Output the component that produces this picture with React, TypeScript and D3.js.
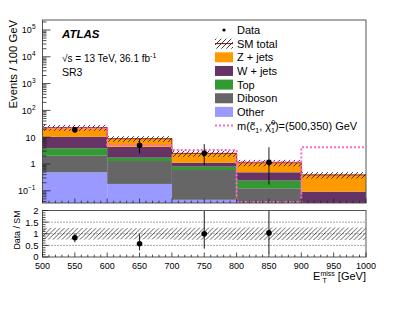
import { useEffect, useRef } from "react";
import * as d3 from "d3";

// bin edges of the MET histogram (GeV)
const binEdges = [500, 600, 700, 800, 900, 1000];

// background stack, one value per bin (events / 100 GeV)
const zJets = [12.7, 4.4, 1.38, 0.63, 0.3];
const wJets = [6.45, 2.68, 0.32, 0.25, 0.083];
const topQuark = [1.81, 0.43, 0.2, 0.116, 0.005];
const diboson = [1.55, 1.11, 0.55, 0.119, 0.004];
const otherBkg = [0.49, 0.18, 0.046, 0.005, 0.001];

// relative uncertainty of the SM total
const smUnc = [0.25, 0.24, 0.26, 0.27, 0.27];

// signal m(c1, chi0)=(500,350)
const signal = [21.5, 5.1, 3.3, 1.22, 4.2];

// data with asymmetric errors
const dataVals = [19, 5, 2.5, 1.16];
const dataUp = [4.4, 3.6, 3.0, 3.04];
const dataDown = [4.4, 2.5, 1.6, 0.99];

const xTicks = [500, 550, 600, 650, 700, 750, 800, 850, 900, 950, 1000];
const logTicks = [-1, 0, 1, 2, 3, 4, 5];
const ratioTicks = [0, 0.5, 1, 1.5, 2];

const legendLabels = ["Data", "SM total", "Z + jets", "W + jets", "Top", "Diboson", "Other"];
const stackColors = ["#9999ff", "#666666", "#339933", "#663366", "#ff9900"];
const stackKeys = ["other", "diboson", "top", "wjets", "zjets"];
const legendColors: Record<string, string> = {
  "Z + jets": "#ff9900",
  "W + jets": "#663366",
  Top: "#339933",
  Diboson: "#666666",
  Other: "#9999ff",
};

const FONT = "'Liberation Sans', Arial, Helvetica, sans-serif";
const SIG = "#ff66cc";

export default function App() {
  const svgRef = useRef<SVGSVGElement | null>(null);

  useEffect(() => {
    if (!svgRef.current) return;
    const width = 407;
    const height = 315;
    const svg = d3.select(svgRef.current).attr("width", width).attr("height", height);
    svg.selectAll("*").remove();

    const left = 42.5;
    const right = 366;
    const mainTop = 20;
    const mainBottom = 203;
    const ratioTop = 210.5;
    const ratioBottom = 257;

    const x = d3.scaleLinear().domain([500, 1000]).range([left, right]);
    const yMin = 0.035;
    const y = d3.scaleLog().domain([yMin, 2.36e5]).range([mainBottom, mainTop]).clamp(true);
    const yr = d3.scaleLinear().domain([0, 2]).range([ratioBottom, ratioTop]).clamp(true);
    const ys = (v: number) => y(Math.max(v, yMin * 0.5));

    const defs = svg.append("defs");
    const mkHatch = (id: string, gap: number, sw: number, col: string) => {
      const p = defs
        .append("pattern")
        .attr("id", id)
        .attr("patternUnits", "userSpaceOnUse")
        .attr("width", gap)
        .attr("height", gap);
      p.append("path")
        .attr("d", `M0,${gap} L${gap},0 M${-gap / 2},${gap / 2} L${gap / 2},${-gap / 2} M${gap / 2},${gap * 1.5} L${gap * 1.5},${gap / 2}`)
        .attr("stroke", col)
        .attr("stroke-width", sw);
    };
    mkHatch("hatchMain", 5, 0.8, "#111");
    mkHatch("hatchRatio", 4.5, 0.75, "#222");
    defs
      .append("clipPath")
      .attr("id", "clipMain")
      .append("rect")
      .attr("x", left)
      .attr("y", mainTop)
      .attr("width", right - left)
      .attr("height", mainBottom - mainTop);

    const bins = zJets.map((_, i) => ({
      lo: binEdges[i],
      hi: binEdges[i + 1],
      other: otherBkg[i],
      diboson: diboson[i],
      top: topQuark[i],
      wjets: wJets[i],
      zjets: zJets[i],
    }));
    const total = bins.map((b) => b.other + b.diboson + b.top + b.wjets + b.zjets);
    const series = d3.stack<any>().keys(stackKeys)(bins);

    const main = svg.append("g").attr("clip-path", "url(#clipMain)");
    series.forEach((s, k) => {
      main
        .append("g")
        .selectAll("rect")
        .data(s)
        .join("rect")
        .attr("x", (d: any) => x(d.data.lo))
        .attr("width", (d: any) => x(d.data.hi) - x(d.data.lo))
        .attr("y", (d: any) => ys(d[1]))
        .attr("height", (d: any) => Math.max(0, ys(d[0]) - ys(d[1])))
        .attr("fill", stackColors[k]);
    });

    // SM total band and line
    main
      .append("g")
      .selectAll("rect")
      .data(bins)
      .join("rect")
      .attr("x", (d) => x(d.lo))
      .attr("width", (d) => x(d.hi) - x(d.lo))
      .attr("y", (_, i) => ys(total[i] * (1 + smUnc[i])))
      .attr("height", (_, i) => ys(total[i] * (1 - smUnc[i])) - ys(total[i] * (1 + smUnc[i])))
      .attr("fill", "url(#hatchMain)");
    let totPath = "";
    bins.forEach((b, i) => {
      totPath += `${i === 0 ? "M" : "L"}${x(b.lo)},${ys(total[i])} L${x(b.hi)},${ys(total[i])} `;
    });
    main.append("path").attr("d", totPath).attr("fill", "none").attr("stroke", "#7a0000").attr("stroke-width", 0.8);

    // signal outline
    const sigPath =
      `M${x(binEdges[0])},${y(signal[0])} H${x(binEdges[1])} V${y(signal[1])} H${x(binEdges[2])} V${y(signal[2])} H${x(binEdges[3])} ` +
      `V${mainBottom - 1} H${x(binEdges[4])} V${y(signal[4])} H${x(binEdges[5])} ` +
      `M${x(binEdges[3])},${y(signal[3])} H${x(binEdges[4])}`;
    main
      .append("path")
      .attr("d", sigPath)
      .attr("fill", "none")
      .attr("stroke", SIG)
      .attr("stroke-width", 2)
      .attr("stroke-dasharray", "2,2");

    // data points main
    dataVals.forEach((v, i) => {
      const cx = x((binEdges[i] + binEdges[i + 1]) / 2);
      main
        .append("line")
        .attr("x1", cx)
        .attr("x2", cx)
        .attr("y1", ys(v + dataUp[i]))
        .attr("y2", ys(v - dataDown[i]))
        .attr("stroke", "#000")
        .attr("stroke-width", 0.9);
      main.append("circle").attr("cx", cx).attr("cy", y(v)).attr("r", 2.8).attr("fill", "#000");
    });

    // ---- ratio panel
    const ratio = svg.append("g");
    ratio
      .selectAll("line.grid")
      .data([0.5, 1, 1.5])
      .join("line")
      .attr("x1", left)
      .attr("x2", right)
      .attr("y1", (d) => yr(d))
      .attr("y2", (d) => yr(d))
      .attr("stroke", "#000")
      .attr("stroke-width", 0.7)
      .attr("stroke-dasharray", "1,2");
    ratio
      .append("g")
      .selectAll("rect")
      .data(bins)
      .join("rect")
      .attr("x", (d) => x(d.lo))
      .attr("width", (d) => x(d.hi) - x(d.lo))
      .attr("y", (_, i) => yr(1 + smUnc[i]))
      .attr("height", (_, i) => yr(1 - smUnc[i]) - yr(1 + smUnc[i]))
      .attr("fill", "url(#hatchRatio)");
    dataVals.forEach((v, i) => {
      const cx = x((binEdges[i] + binEdges[i + 1]) / 2);
      ratio
        .append("line")
        .attr("x1", cx)
        .attr("x2", cx)
        .attr("y1", yr((v + dataUp[i]) / total[i]))
        .attr("y2", yr((v - dataDown[i]) / total[i]))
        .attr("stroke", "#000")
        .attr("stroke-width", 0.9);
      ratio.append("circle").attr("cx", cx).attr("cy", yr(v / total[i])).attr("r", 2.8).attr("fill", "#000");
    });

    // ---- frames and ticks
    const frameCol = "#555";
    [
      [mainTop, mainBottom],
      [ratioTop, ratioBottom],
    ].forEach(([t, b]) => {
      svg
        .append("rect")
        .attr("x", left)
        .attr("y", t)
        .attr("width", right - left)
        .attr("height", b - t)
        .attr("fill", "none")
        .attr("stroke", frameCol)
        .attr("stroke-width", 1);
    });

    const tickG = svg.append("g").attr("stroke", "#222").attr("stroke-width", 0.8);
    const minorX = d3.range(500, 1001, 10);
    [mainBottom, ratioBottom].forEach((b) => {
      minorX.forEach((v) => {
        const len = v % 50 === 0 ? 4.5 : 2.3;
        tickG.append("line").attr("x1", x(v)).attr("x2", x(v)).attr("y1", b).attr("y2", b - len);
      });
    });
    // log ticks
    logTicks.forEach((e) => {
      for (let m = 1; m <= 9; m++) {
        const v = m * Math.pow(10, e);
        if (v < yMin || v > 2.36e5) continue;
        const len = m === 1 ? 8 : 4;
        tickG.append("line").attr("x1", left).attr("x2", left + len).attr("y1", y(v)).attr("y2", y(v));
      }
    });
    for (let m = 4; m <= 9; m++) {
      const v = m * 0.01;
      if (v < yMin) continue;
      tickG.append("line").attr("x1", left).attr("x2", left + 4).attr("y1", y(v)).attr("y2", y(v));
    }
    d3.range(0, 2.01, 0.1).forEach((v) => {
      const major = Math.abs(v * 2 - Math.round(v * 2)) < 1e-6;
      tickG
        .append("line")
        .attr("x1", left)
        .attr("x2", left + (major ? 6 : 3))
        .attr("y1", yr(v))
        .attr("y2", yr(v));
    });

    // ---- labels
    const txt = svg.append("g").attr("font-family", FONT).attr("fill", "#000");
    logTicks.forEach((e) => {
      const t = txt
        .append("text")
        .attr("x", left - 7)
        .attr("y", y(Math.pow(10, e)) + 3.5)
        .attr("text-anchor", "end")
        .attr("font-size", 9);
      if (e === 0) t.text("1");
      else if (e === 1) t.text("10");
      else {
        t.append("tspan").text("10");
        t.append("tspan").attr("dy", -4).attr("font-size", 6.5).text(e < 0 ? `\u2212${-e}` : `${e}`);
      }
    });
    ratioTicks.forEach((v) => {
      txt
        .append("text")
        .attr("x", left - 4)
        .attr("y", yr(v) + (v === 0 ? 2.5 : 3.5))
        .attr("text-anchor", "end")
        .attr("font-size", 9.5)
        .text(`${v}`);
    });
    xTicks.forEach((v) => {
      txt
        .append("text")
        .attr("x", x(v))
        .attr("y", ratioBottom + 11.5)
        .attr("text-anchor", "middle")
        .attr("font-size", 9)
        .text(`${v}`);
    });

    // axis titles
    txt
      .append("text")
      .attr("transform", `translate(17,${mainTop}) rotate(-90)`)
      .attr("text-anchor", "end")
      .attr("font-size", 11.3)
      .text("Events / 100 GeV");
    txt
      .append("text")
      .attr("transform", `translate(20,${ratioTop}) rotate(-90)`)
      .attr("text-anchor", "end")
      .attr("font-size", 8.8)
      .text("Data / SM");
    const xt = txt.append("text").attr("x", right).attr("y", 280).attr("text-anchor", "end").attr("font-size", 11);
    xt.append("tspan").text("E");
    xt.append("tspan").attr("font-size", 7).attr("dy", -4.5).text("miss");
    xt.append("tspan").attr("dy", 4.5).text(" [GeV]");
    txt.append("text").attr("x", right - 43.5).attr("y", 283).attr("font-size", 7).text("T");

    // ATLAS label
    txt
      .append("text")
      .attr("x", 62)
      .attr("y", 37.5)
      .attr("font-size", 11.5)
      .attr("font-weight", "bold")
      .attr("font-style", "italic")
      .text("ATLAS");
    const lumi = txt.append("text").attr("x", 62).attr("y", 62).attr("font-size", 10);
    lumi.append("tspan").text("\u221As = 13 TeV, 36.1 fb");
    lumi.append("tspan").attr("dy", -4).attr("font-size", 7).text("-1");
    txt.append("text").attr("x", 62).attr("y", 76).attr("font-size", 10.5).text("SR3");

    // ---- legend
    const lg = svg.append("g");
    const rowY = (i: number) => 30 + i * 13.65;
    const sx = 215;
    const sw = 18;
    legendLabels.forEach((lab, i) => {
      const cy = rowY(i);
      if (lab === "Data") {
        lg.append("circle").attr("cx", sx + sw / 2).attr("cy", cy).attr("r", 1.6).attr("fill", "#000");
      } else if (lab === "SM total") {
        lg.append("rect").attr("x", sx).attr("y", cy - 5).attr("width", sw).attr("height", 10).attr("fill", "url(#hatchMain)");
        lg.append("line")
          .attr("x1", sx)
          .attr("x2", sx + sw)
          .attr("y1", cy)
          .attr("y2", cy)
          .attr("stroke", "#7a0000")
          .attr("stroke-width", 1);
      } else {
        lg.append("rect")
          .attr("x", sx)
          .attr("y", cy - 5)
          .attr("width", sw)
          .attr("height", 10)
          .attr("fill", legendColors[lab]);
      }
      lg.append("text")
        .attr("x", sx + 22)
        .attr("y", cy + 4)
        .attr("font-family", FONT)
        .attr("font-size", 11)
        .text(lab);
    });
    const sy = rowY(legendLabels.length);
    lg.append("line")
      .attr("x1", sx)
      .attr("x2", sx + sw)
      .attr("y1", sy)
      .attr("y2", sy)
      .attr("stroke", SIG)
      .attr("stroke-width", 2)
      .attr("stroke-dasharray", "2,2");
    const st = lg.append("text").attr("x", sx + 22).attr("y", sy + 4).attr("font-family", FONT).attr("font-size", 11);
    st.append("tspan").text("m(c\u0303");
    st.append("tspan").attr("font-size", 7).attr("dy", 3).text("1");
    st.append("tspan").attr("dy", -3).text(", \u03C7\u0303");
    st.append("tspan").attr("font-size", 7).attr("dy", -5).text("0");
    st.append("tspan").attr("font-size", 7).attr("dx", -4).attr("dy", 8).text("1");
    st.append("tspan").attr("dy", -3).text(")=(500,350) GeV");
  }, []);

  return (
    <div style={{ width: 407, height: 315, margin: -8 }}>
      <svg ref={svgRef}></svg>
    </div>
  );
}
